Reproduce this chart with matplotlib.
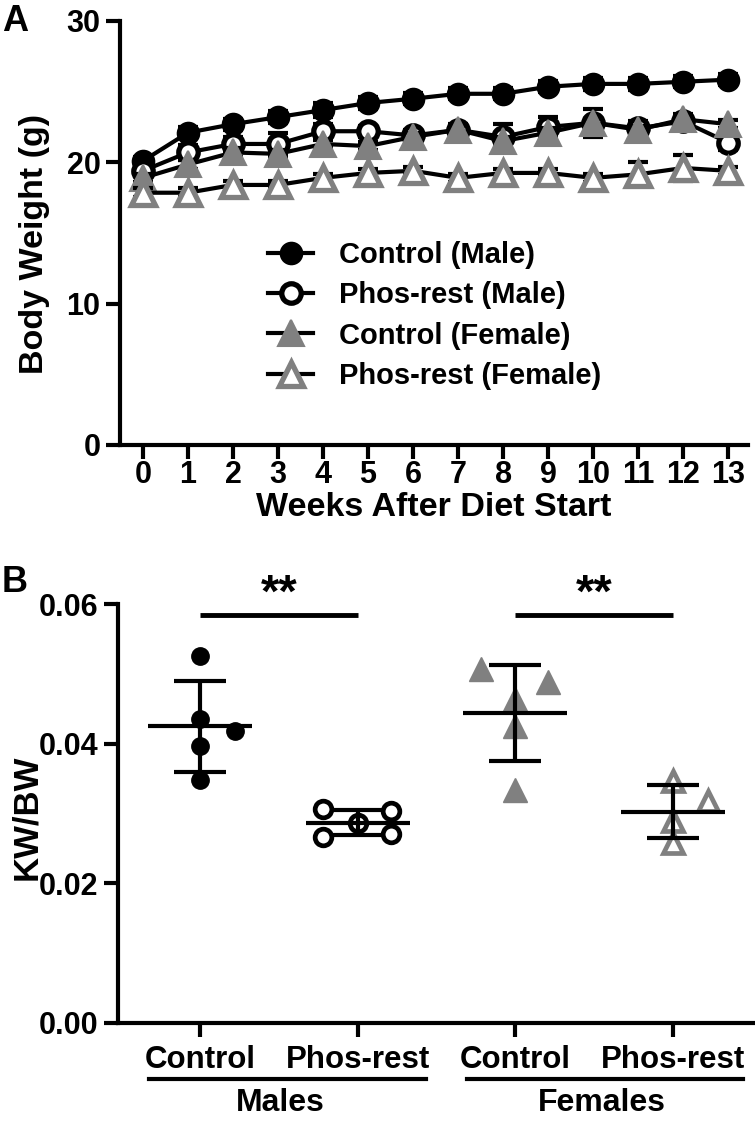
import matplotlib
matplotlib.use("Agg")
import matplotlib.pyplot as plt
import numpy as np
from matplotlib.lines import Line2D

plt.rcParams['font.family'] = ['Liberation Sans', 'DejaVu Sans']
plt.rcParams['font.weight'] = 'bold'

# ---------------- Panel A data ----------------
weeks = list(range(14))
ctrl_m = [20.1, 22.1, 22.7, 23.2, 23.7, 24.2, 24.5, 24.85, 24.85, 25.35, 25.55, 25.55, 25.7, 25.85]
ctrl_m_sem = [0.3, 0.4, 0.4, 0.4, 0.5, 0.4, 0.4, 0.4, 0.4, 0.4, 0.4, 0.4, 0.4, 0.4]
phos_m = [19.4, 20.7, 21.3, 21.3, 22.2, 22.2, 21.9, 22.3, 21.8, 22.5, 22.8, 22.4, 22.9, 21.4]
phos_m_sem = [0.4, 0.5, 0.5, 0.8, 0.5, 0.4, 0.4, 0.4, 0.9, 0.7, 1.0, 0.5, 0.5, 0.5]
ctrl_f = [18.9, 19.85, 20.7, 20.6, 21.3, 21.15, 21.8, 22.3, 21.5, 22.1, 22.8, 22.3, 23.05, 22.7]
ctrl_f_sem = [0.3, 0.3, 0.3, 0.3, 0.3, 0.3, 0.3, 0.3, 0.3, 0.3, 0.3, 0.3, 0.3, 0.3]
phos_f = [17.85, 17.85, 18.4, 18.4, 18.9, 19.25, 19.4, 18.9, 19.25, 19.25, 18.9, 19.15, 19.6, 19.4]
phos_f_sem = [0.3, 0.3, 0.3, 0.3, 0.3, 0.3, 0.3, 0.3, 0.3, 0.3, 0.3, 0.85, 0.9, 0.3]
series_labels = ["Control (Male)", "Phos-rest (Male)", "Control (Female)", "Phos-rest (Female)"]

# ---------------- Panel B data ----------------
group_positions = [1, 2, 3, 4]
group_labels = ["Control", "Phos-rest", "Control", "Phos-rest"]
sex_labels = ["Males", "Females"]
kw_ctrl_m = [0.0526, 0.0436, 0.0418, 0.0397, 0.0348]
kw_ctrl_m_dx = [0.0, 0.0, 0.22, 0.0, 0.0]
kw_phos_m = [0.0306, 0.0303, 0.0287, 0.0267, 0.0270]
kw_phos_m_dx = [-0.22, 0.21, 0.0, -0.22, 0.21]
kw_ctrl_f = [0.0507, 0.0488, 0.0464, 0.0425, 0.0334]
kw_ctrl_f_dx = [-0.22, 0.21, 0.0, 0.0, 0.0]
kw_phos_f = [0.0346, 0.0318, 0.0289, 0.0258]
kw_phos_f_dx = [0.0, 0.22, 0.0, 0.0]

GRAY = '#808080'
BLACK = 'black'

fig = plt.figure(figsize=(7.55, 11.23), dpi=100)
W, H = 755, 1123

# ================= Panel A =================
axA = fig.add_axes([120 / W, 1 - 445 / H, (748 - 120) / W, (445 - 21) / H])
styles = [
    dict(marker='o', mfc=BLACK, mec=BLACK, ms=15.5, mew=1.5),
    dict(marker='o', mfc='white', mec=BLACK, ms=14, mew=3.8),
    dict(marker='^', mfc=GRAY, mec=GRAY, ms=19, mew=1.5),
    dict(marker='^', mfc='white', mec=GRAY, ms=17, mew=3.8),
]
data = [(ctrl_m, ctrl_m_sem), (phos_m, phos_m_sem), (ctrl_f, ctrl_f_sem), (phos_f, phos_f_sem)]
handles = []
for i, ((y, e), st) in enumerate(zip(data, styles)):
    axA.errorbar(weeks, y, yerr=e, fmt='none', ecolor=BLACK, elinewidth=3,
                 capsize=7, capthick=3, zorder=2 + i * 2)
    axA.plot(weeks, y, color=BLACK, lw=3, zorder=3 + i * 2, clip_on=False, **st)
    handles.append(Line2D([0], [0], color=BLACK, lw=3, **st))

axA.set_xlim(-0.51, 13.44)
axA.set_ylim(0, 30)
axA.set_yticks([0, 10, 20, 30])
axA.set_xticks(weeks)
for s in ['top', 'right']:
    axA.spines[s].set_visible(False)
for s in ['left', 'bottom']:
    axA.spines[s].set_linewidth(3)
axA.tick_params(axis='both', length=10, width=3, labelsize=22, direction='out')
axA.tick_params(axis='x', pad=1)
axA.tick_params(axis='y', pad=4)
for lab in axA.get_xticklabels() + axA.get_yticklabels():
    lab.set_fontweight('bold')
axA.set_xlabel("Weeks After Diet Start", fontsize=24.5, fontweight='bold', labelpad=1)
axA.set_ylabel("Body Weight (g)", fontsize=24.5, fontweight='bold')
axA.yaxis.set_label_coords((50 - 120) / 628, 0.475)

leg = axA.legend(handles, series_labels, loc='upper left',
                 bbox_to_anchor=((268 - 120) / 628, (445 - 241) / 424),
                 frameon=False, fontsize=21, handlelength=1.55, handletextpad=0.9,
                 labelspacing=0.42, borderpad=0, borderaxespad=0)
for t in leg.get_texts():
    t.set_fontweight('bold')

fig.text(2 / W, 1 - 31 / H, "A", fontsize=26, fontweight='bold', ha='left', va='baseline')

# ================= Panel B =================
axB = fig.add_axes([118 / W, 1 - 1023 / H, (755 - 118) / W, (1023 - 604) / H])
groups = [
    (kw_ctrl_m, kw_ctrl_m_dx, dict(marker='o', mfc=BLACK, mec=BLACK, ms=12.5, mew=1)),
    (kw_phos_m, kw_phos_m_dx, dict(marker='o', mfc='white', mec=BLACK, ms=12, mew=3.4)),
    (kw_ctrl_f, kw_ctrl_f_dx, dict(marker='^', mfc=GRAY, mec=GRAY, ms=17.5, mew=1)),
    (kw_phos_f, kw_phos_f_dx, dict(marker='^', mfc='white', mec=GRAY, ms=15, mew=3.4)),
]
for pos, (vals, dx, st) in zip(group_positions, groups):
    vals = np.array(vals)
    xs = pos + np.array(dx)
    axB.plot(xs, vals, ls='none', zorder=3, clip_on=False, **st)
    m = vals.mean()
    sd = vals.std(ddof=1)
    axB.plot([pos - 0.33, pos + 0.33], [m, m], color=BLACK, lw=3, zorder=4, solid_capstyle='butt')
    axB.plot([pos, pos], [m - sd, m + sd], color=BLACK, lw=3, zorder=4, solid_capstyle='butt')
    for yy in (m - sd, m + sd):
        axB.plot([pos - 0.165, pos + 0.165], [yy, yy], color=BLACK, lw=3, zorder=4,
                 solid_capstyle='butt')

axB.set_xlim(0.48, 4.52)
axB.set_ylim(0, 0.06)
axB.set_yticks([0, 0.02, 0.04, 0.06])
axB.set_yticklabels(["%.2f" % v for v in [0, 0.02, 0.04, 0.06]])
axB.set_xticks(group_positions)
axB.set_xticklabels(group_labels)
for s in ['top', 'right']:
    axB.spines[s].set_visible(False)
for s in ['left', 'bottom']:
    axB.spines[s].set_linewidth(3)
axB.tick_params(axis='both', length=10, width=3, labelsize=22, direction='out')
axB.tick_params(axis='x', labelsize=22.5, pad=6)
axB.tick_params(axis='y', pad=4)
for lab in axB.get_xticklabels() + axB.get_yticklabels():
    lab.set_fontweight('bold')
axB.set_ylabel("KW/BW", fontsize=25, fontweight='bold')
axB.yaxis.set_label_coords((43 - 118) / 637, 0.49)

# significance bars
for (x0, x1) in [(1, 2), (3, 4)]:
    axB.plot([x0, x1], [0.0584, 0.0584], color=BLACK, lw=3.5, clip_on=False,
             solid_capstyle='butt')
    axB.text((x0 + x1) / 2, 0.0596, "**", fontsize=34, fontweight='bold',
             ha='center', va='baseline', clip_on=False)

# group underlines and sex labels
UL_Y = (1023 - 1079) / 419
SEX_Y = (1023 - 1103) / 419
for (a, b), (lx, lab) in zip([((149 - 118) / 637, (426 - 118) / 637),
                               ((467 - 118) / 637, (743 - 118) / 637)],
                              [((280 - 118) / 637, sex_labels[0]),
                               ((602 - 118) / 637, sex_labels[1])]):
    axB.add_line(Line2D([a, b], [UL_Y, UL_Y], transform=axB.transAxes,
                        color=BLACK, lw=3, clip_on=False))
    axB.text(lx, SEX_Y, lab, transform=axB.transAxes, fontsize=23,
             fontweight='bold', ha='center', va='center')

fig.text(2 / W, 1 - 592 / H, "B", fontsize=26, fontweight='bold', ha='left', va='baseline')

fig.savefig("out.png", dpi=100)
